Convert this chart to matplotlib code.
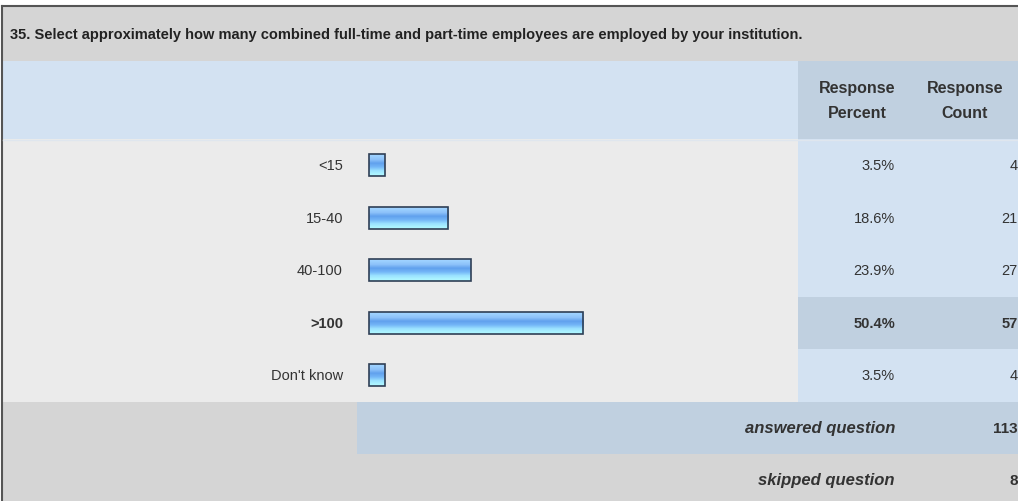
import matplotlib.pyplot as plt
import numpy as np

plt.rcParams['font.family'] = ['Liberation Sans', 'DejaVu Sans']

question = "35. Select approximately how many combined full-time and part-time employees are employed by your institution."
categories = ["<15", "15-40", "40-100", ">100", "Don't know"]
percents = [3.5, 18.6, 23.9, 50.4, 3.5]
counts = [4, 21, 27, 57, 4]
answered = 113
skipped = 8
highlight = ">100"

# page colours
GRAY_HEAD = '#d5d5d5'
BLUE_LIGHT = '#d3e2f2'
BLUE_DARK = '#c0d0e0'
BODY = '#ebebeb'
TEXT = '#333333'

fig = plt.figure(figsize=(10.18, 5.02), dpi=100)
ax = fig.add_axes([0, 0, 1, 1])
ax.set_xlim(0, 1018)
ax.set_ylim(502, 0)
ax.axis('off')


def box(x0, y0, x1, y1, color):
    ax.fill_between([x0, x1], y0, y1, color=color, lw=0, zorder=0)


# header
box(2, 7, 1018, 62, GRAY_HEAD)
ax.plot([2, 1018], [6.5, 6.5], color='#555555', lw=1.5)
ax.plot([2, 2], [6.5, 502], color='#555555', lw=1.5)
ax.text(10, 35, question, fontsize=10.5, fontweight='bold', color='#222222', va='center')

box(3, 62, 798, 140, BLUE_LIGHT)
box(798, 62, 1018, 140, BLUE_DARK)
ax.text(857, 101, "Response\nPercent", fontsize=11.5, fontweight='bold', color=TEXT,
        ha='center', va='center', linespacing=1.75)
ax.text(965, 101, "Response\nCount", fontsize=11.5, fontweight='bold', color=TEXT,
        ha='center', va='center', linespacing=1.75)

# body rows
row_h = 52.5
top = 140
centers = top + row_h * (np.arange(len(categories)) + 0.5)
box(3, top, 798, top + row_h * len(categories), BODY)
box(798, top, 1018, top + row_h * len(categories), BLUE_LIGHT)
ax.plot([3, 1018], [top + 0.5, top + 0.5], color='#dfe6ee', lw=1)

scale = 4.25
left = 369
bar_h = 22
widths = np.maximum(np.array(percents) * scale, 16)
ax.barh(centers, widths, height=bar_h, left=left, color='none',
        edgecolor='#2f3f55', lw=1.2, zorder=3)

# vertical gradient inside bars
grad = np.array([[0.62, 0.82, 1.0], [0.55, 0.76, 0.98], [0.38, 0.63, 0.93],
                 [0.45, 0.71, 0.97], [0.60, 0.88, 1.0], [0.68, 0.96, 1.0]])
grad = grad[:, None, :]
for c, w in zip(centers, widths):
    ax.imshow(grad, extent=[left, left + w, c + bar_h / 2, c - bar_h / 2],
              aspect='auto', interpolation='bilinear', zorder=2)

for cat, pct, cnt, c in zip(categories, percents, counts, centers):
    bold = 'bold' if cat == highlight else 'normal'
    if cat == highlight:
        box(798, c - row_h / 2, 1018, c + row_h / 2, BLUE_DARK)
    ax.text(343, c, cat, fontsize=10.5, ha='right', va='center', color=TEXT, fontweight=bold)
    ax.text(895, c, f"{pct}%", fontsize=10.5, ha='right', va='center', color=TEXT, fontweight=bold)
    ax.text(1018, c, str(cnt), fontsize=10.5, ha='right', va='center', color=TEXT, fontweight=bold)

# footer
foot = top + row_h * len(categories)
box(3, foot, 1018, 502, GRAY_HEAD)
box(357, foot, 1018, foot + row_h, BLUE_DARK)
ax.text(895, foot + row_h / 2, "answered question", fontsize=12, fontweight='bold',
        style='italic', ha='right', va='center', color=TEXT)
ax.text(1018, foot + row_h / 2, str(answered), fontsize=11, fontweight='bold',
        ha='right', va='center', color=TEXT)
ax.text(895, 481, "skipped question", fontsize=12, fontweight='bold',
        style='italic', ha='right', va='center', color=TEXT)
ax.text(1018, 481, str(skipped), fontsize=11, fontweight='bold',
        ha='right', va='center', color=TEXT)

fig.savefig('out.png', dpi=100, facecolor='white')
